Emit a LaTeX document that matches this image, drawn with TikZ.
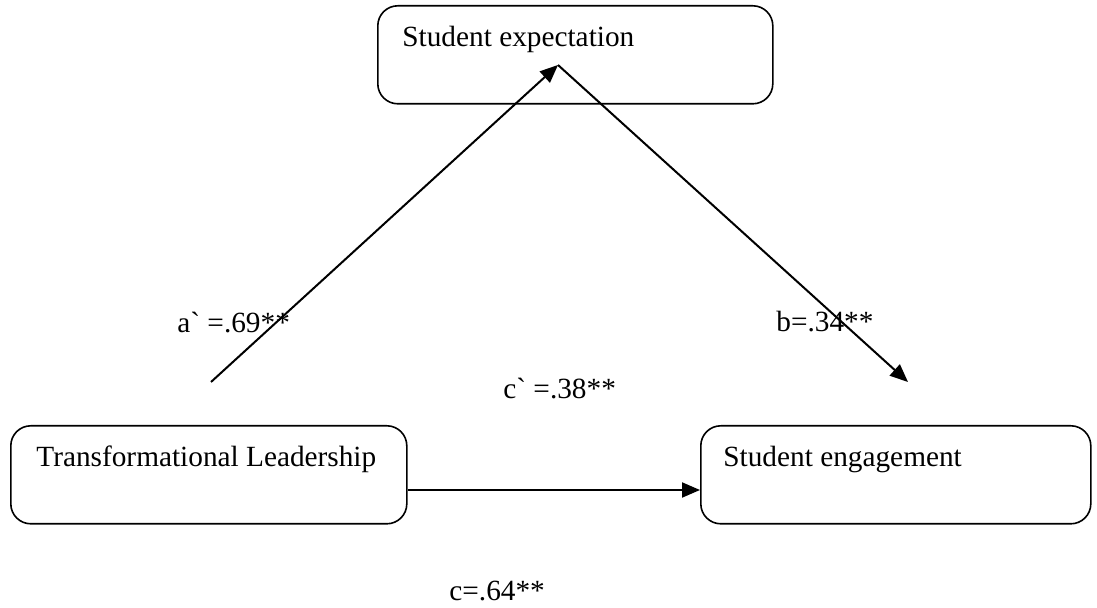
\documentclass[tikz,border=0pt]{standalone}
\usepackage{fontspec}
\setmainfont{Liberation Serif}
\usetikzlibrary{calc}
\usetikzlibrary{arrows.meta}

\begin{document}
\begin{tikzpicture}[x=0.5pt,y=-0.5pt,
	boite/.style={draw,line width=0.8pt,rounded corners=10pt,inner sep=0pt,anchor=north west,minimum height=49pt},
	texte/.style={anchor=base west,inner sep=0pt,font=\fontsize{14.65}{17}\selectfont},
	fleche/.style={line width=1pt,-{Triangle[length=9pt,width=7.5pt]}}]
%					Cadre :
					\useasboundingbox (0,0) rectangle (1097,608);
%					Boites :
					\node[boite,minimum width=197.5pt] (attente) at (377,5) {};
					\node[boite,minimum width=198pt] (leader) at (10,425) {};
					\node[boite,minimum width=195pt] (engage) at (700,425) {};
					\node[texte] (attenteT) at ($(attente.north west)+(25,42)$) {Student expectation};
					\node[texte] (leaderT) at ($(leader.north west)+(26,42)$) {Transformational Leadership};
					\node[texte] (engageT) at ($(engage.north west)+(23,42)$) {Student engagement};
%					Fleches :
					\coordinate (sommet) at (558,65);
					\coordinate (aDebut) at (211,382);
					\coordinate (bFin) at (908,382);
					\draw[fleche] (aDebut) -- (sommet);
					\draw[fleche] (sommet) -- (bFin);
					\draw[fleche] (leader.east |- 0,490) -- (engage.west |- 0,490);
%					Coefficients :
					\node[texte] (aLab) at (177,333) {a\textasciigrave{} =.69**};
					\node[texte] (bLab) at (776,332) {b=.34**};
					\node[texte] (cpLab) at (503,399) {c\textasciigrave{} =.38**};
					\node[texte] (cLab) at (449,600) {c=.64**};
				\end{tikzpicture}
\end{document}
